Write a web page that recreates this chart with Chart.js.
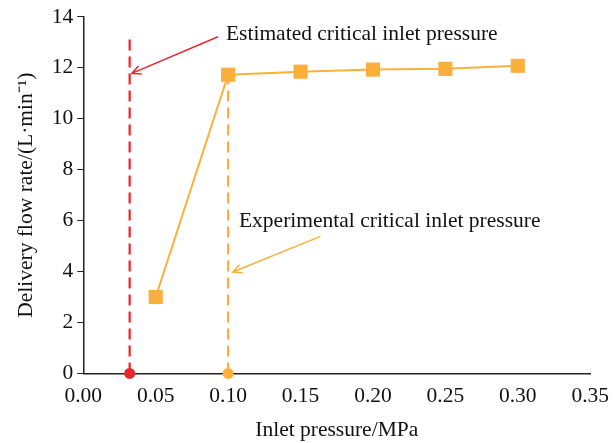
<!DOCTYPE html>
<html>
<head>
<meta charset="utf-8">
<script src="https://cdn.jsdelivr.net/npm/chart.js@4"></script>
<style>
  html, body { margin: 0; padding: 0; background: #fff; }
  #wrap { width: 613px; height: 443px; }
</style>
</head>
<body>
<div id="wrap"><canvas id="flowChart" width="613" height="443"></canvas></div>
<script>
const pressure = [0.05, 0.10, 0.15, 0.20, 0.25, 0.30];
const flowRate = [3.0, 11.73, 11.85, 11.93, 11.96, 12.08];

const estimatedCritical = 0.032;
const experimentalCritical = 0.10;
const estimatedLineTop = 13.35;
const experimentalLineTop = 11.6;

// arrows: [tailX, tailY, tipX, tipY]
const estimatedArrow = [0.093, 13.22, 0.0335, 11.78];
const experimentalArrow = [0.1637, 5.38, 0.1032, 3.98];
const estimatedLabel = ['Estimated critical inlet pressure', 0.0985, 13.32];
const experimentalLabel = ['Experimental critical inlet pressure', 0.1075, 5.97];

const xTicks = [0, 0.05, 0.10, 0.15, 0.20, 0.25, 0.30, 0.35];
const yTicks = [0, 2, 4, 6, 8, 10, 12, 14];

const orange = '#FBB03B';
const red = '#E8262D';
const serif = '"Liberation Serif", "Times New Roman", serif';

const annotate = {
    id: 'annotate',
    afterDatasetsDraw(chart) {
        const ctx = chart.ctx;
        const xs = chart.scales.x, ys = chart.scales.y;
        const arrow = (a, color) => {
            const x1 = xs.getPixelForValue(a[0]), y1 = ys.getPixelForValue(a[1]);
            const x2 = xs.getPixelForValue(a[2]), y2 = ys.getPixelForValue(a[3]);
            const ang = Math.atan2(y2 - y1, x2 - x1);
            ctx.save();
            ctx.strokeStyle = color;
            ctx.lineWidth = 1.5;
            ctx.beginPath();
            ctx.moveTo(x1, y1);
            ctx.lineTo(x2, y2);
            ctx.moveTo(x2 - 10 * Math.cos(ang - 0.45), y2 - 10 * Math.sin(ang - 0.45));
            ctx.lineTo(x2, y2);
            ctx.lineTo(x2 - 10 * Math.cos(ang + 0.45), y2 - 10 * Math.sin(ang + 0.45));
            ctx.stroke();
            ctx.restore();
        };
        const label = (l) => {
            ctx.save();
            ctx.fillStyle = '#111';
            ctx.font = '21.5px ' + serif;
            ctx.textBaseline = 'middle';
            ctx.fillText(l[0], xs.getPixelForValue(l[1]), ys.getPixelForValue(l[2]));
            ctx.restore();
        };
        arrow(estimatedArrow, red);
        arrow(experimentalArrow, orange);
        label(estimatedLabel);
        label(experimentalLabel);
    }
};

new Chart(document.getElementById('flowChart'), {
    type: 'scatter',
    data: {
        datasets: [{
            data: [{x: estimatedCritical, y: 0}, {x: estimatedCritical, y: estimatedLineTop}],
            showLine: true,
            borderColor: red,
            borderWidth: 2.2,
            borderDash: [11, 6],
            pointRadius: 0,
            clip: false
        }, {
            data: [{x: experimentalCritical, y: 0}, {x: experimentalCritical, y: experimentalLineTop}],
            showLine: true,
            borderColor: orange,
            borderWidth: 2.2,
            borderDash: [11, 6],
            pointRadius: 0,
            clip: false
        }, {
            data: pressure.map((p, i) => ({x: p, y: flowRate[i]})),
            showLine: true,
            borderColor: orange,
            borderWidth: 2,
            backgroundColor: orange,
            pointStyle: 'rect',
            pointRadius: 10,
            pointBorderWidth: 0,
            clip: false
        }, {
            data: [{x: estimatedCritical, y: 0}],
            backgroundColor: red,
            pointRadius: 5.5,
            pointBorderWidth: 0,
            clip: false
        }, {
            data: [{x: experimentalCritical, y: 0}],
            backgroundColor: orange,
            pointRadius: 5.5,
            pointBorderWidth: 0,
            clip: false
        }]
    },
    options: {
        responsive: false,
        animation: false,
        layout: { padding: { top: 8, right: 11, left: 13, bottom: 0 } },
        plugins: { legend: { display: false }, tooltip: { enabled: false } },
        scales: {
            x: {
                type: 'linear',
                min: 0,
                max: 0.35,
                afterBuildTicks: (s) => { s.ticks = xTicks.map(v => ({value: v})); },
                border: { color: '#222', width: 1.5 },
                grid: { display: false, drawOnChartArea: false, drawTicks: true, tickLength: 6, color: '#222' },
                ticks: {
                    color: '#111',
                    font: { family: serif, size: 21.5 },
                    padding: 4,
                    callback: (v) => v.toFixed(2)
                },
                title: {
                    display: true,
                    text: 'Inlet pressure/MPa',
                    color: '#111',
                    font: { family: serif, size: 21.5 },
                    padding: { top: 4, bottom: 0 }
                }
            },
            y: {
                min: 0,
                max: 14,
                afterBuildTicks: (s) => { s.ticks = yTicks.map(v => ({value: v})); },
                border: { color: '#222', width: 1.5 },
                grid: { display: true, drawOnChartArea: false, drawTicks: true, tickLength: 6, color: '#222' },
                ticks: {
                    color: '#111',
                    font: { family: serif, size: 21.5 },
                    padding: 4
                },
                title: {
                    display: true,
                    text: 'Delivery flow rate/(L·min⁻¹)',
                    color: '#111',
                    font: { family: serif, size: 21.5 },
                    padding: { top: 0, bottom: 9 }
                }
            }
        }
    },
    plugins: [annotate]
});
</script>
</body>
</html>
